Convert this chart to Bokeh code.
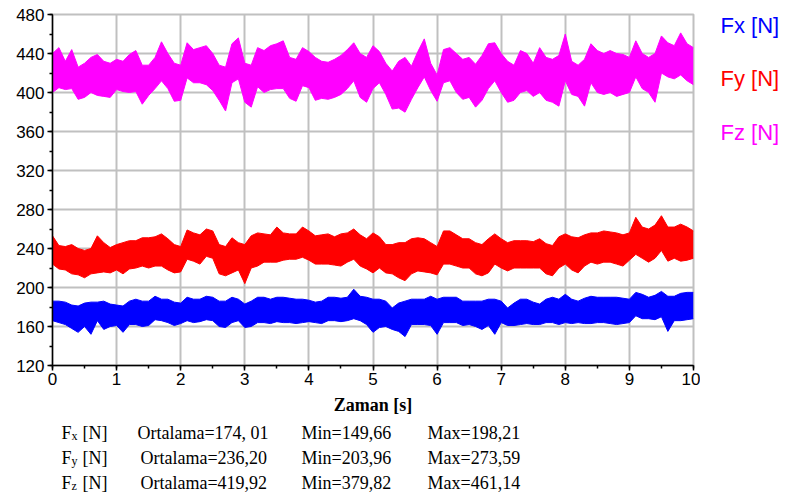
from bokeh.plotting import figure
from bokeh.models import SingleIntervalTicker, Range1d
from bokeh.layouts import row, column
from bokeh.core.properties import value
from bokeh.embed import file_html
from bokeh.resources import INLINE

# Sampling times of the envelope readings [s]
t = [round(0.1 * i, 1) for i in range(101)]

# Upper / lower envelope of each force signal [N]
fx_hi = [186, 186, 185, 182, 181, 184, 185, 185, 186, 183,
         182, 181, 186, 188, 186, 186, 191, 188, 188, 185,
         184, 190, 188, 188, 191, 190, 186, 186, 190, 188,
         183, 186, 190, 190, 188, 190, 190, 189, 188, 188,
         187, 185, 186, 190, 190, 189, 190, 198.21, 191, 190,
         188, 188, 186, 179, 184, 186, 188, 188, 188, 191,
         188, 190, 190, 190, 186, 186, 186, 186, 188, 188,
         186, 179, 184, 188, 188, 185, 183, 188, 190, 188,
         193, 188, 186, 189, 191, 190, 190, 190, 190, 189,
         188, 195, 193, 190, 192, 196, 191, 191, 194, 195, 195]
fx_lo = [166, 164, 162, 158, 154, 160, 152, 166, 157, 160,
         161, 154, 162, 162, 160, 161, 167, 166, 164, 161,
         163, 166, 164, 165, 167, 166, 160, 159, 164, 166,
         159, 160, 164, 164, 163, 165, 164, 164, 163, 164,
         165, 164, 163, 166, 166, 165, 166, 168, 166, 162,
         154, 159, 160, 157, 155, 149.66, 162, 162, 162, 161,
         152, 164, 164, 164, 161, 162, 160, 157, 161, 152,
         164, 161, 161, 162, 163, 162, 162, 164, 164, 162,
         164, 163, 164, 163, 163, 164, 164, 163, 162, 163,
         164, 171, 168, 168, 167, 170, 155, 166, 166, 167, 168]

fy_hi = [253, 243, 242, 244, 240, 238, 240, 253, 246, 241,
         244, 246, 248, 248, 251, 251, 252, 255, 250, 244,
         242, 259, 256, 254, 260, 258, 244, 242, 251, 246,
         244, 253, 256, 255, 254, 262, 256, 255, 255, 262,
         258, 253, 254, 255, 252, 255, 256, 260, 254, 250,
         256, 252, 244, 244, 246, 246, 250, 251, 250, 246,
         242, 258, 258, 254, 250, 250, 246, 244, 250, 255,
         250, 246, 248, 248, 248, 247, 250, 245, 243, 252,
         255, 252, 251, 254, 256, 256, 258, 257, 256, 254,
         256, 272, 262, 260, 264, 273.59, 262, 262, 265, 262, 258]
fy_lo = [224, 219, 218, 214, 213, 210, 214, 215, 216, 215,
         218, 214, 219, 220, 222, 220, 222, 222, 218, 215,
         216, 229, 227, 224, 232, 230, 214, 212, 215, 218,
         203.96, 220, 222, 226, 226, 226, 228, 229, 229, 231,
         228, 224, 224, 224, 223, 222, 226, 229, 222, 219,
         215, 220, 215, 214, 210, 207, 214, 217, 216, 215,
         213, 224, 224, 222, 220, 220, 214, 212, 215, 224,
         220, 217, 220, 220, 220, 220, 220, 214, 212, 220,
         224, 218, 215, 222, 226, 224, 226, 226, 224, 222,
         228, 234, 230, 226, 230, 238, 227, 230, 227, 228, 230]

fz_hi = [440, 446, 432, 444, 426, 430, 436, 439, 432, 430,
         434, 432, 439, 443, 428, 428, 436, 452, 440, 430,
         428, 451, 444, 446, 448, 440, 428, 426, 450, 456,
         430, 428, 446, 443, 448, 450, 453, 436, 434, 446,
         442, 436, 432, 431, 434, 438, 444, 451, 440, 436,
         448, 442, 430, 422, 432, 436, 427, 442, 455, 430,
         418, 444, 446, 440, 434, 436, 429, 438, 450, 451,
         440, 432, 428, 443, 440, 430, 446, 436, 434, 438,
         460, 432, 428, 434, 450, 443, 440, 443, 440, 439,
         436, 453, 440, 436, 440, 458, 451, 448, 461.14, 450, 446]
fz_lo = [400, 405, 403, 404, 393, 395, 400, 397, 396, 395,
         403, 401, 400, 401, 388, 397, 404, 412, 404, 391,
         392, 415, 410, 410, 408, 402, 392, 381, 410, 414,
         390, 385, 406, 400, 403, 404, 404, 394, 391, 407,
         405, 392, 394, 393, 395, 398, 404, 412, 395, 390,
         404, 410, 398, 383, 384, 379.82, 393, 405, 416, 402,
         391, 410, 412, 400, 393, 395, 385, 392, 404, 412,
         400, 390, 392, 400, 402, 396, 400, 392, 390, 386,
         412, 398, 396, 386, 410, 400, 398, 400, 396, 398,
         400, 416, 404, 400, 390, 420, 416, 414, 418, 412, 408]

series_names = ["Fx [N]", "Fy [N]", "Fz [N]"]
series_colors = ["#0000ff", "#ff0000", "#ff00ff"]
means = ["174, 01", "236,20", "419,92"]
subscripts = ["x", "y", "z"]

# ---- main chart -------------------------------------------------------
MAIN_W, MAIN_H = 700, 420
FRAME_L, FRAME_R = 52, 693
p = figure(width=MAIN_W, height=MAIN_H, output_backend="svg", toolbar_location=None,
           x_range=Range1d(0, 10), y_range=Range1d(120, 480),
           min_border_left=FRAME_L, min_border_right=MAIN_W - FRAME_R,
           min_border_top=14, min_border_bottom=55)
p.background_fill_color = "white"
p.border_fill_color = "white"
p.outline_line_color = "#c0c0c0"
p.outline_line_width = 2

p.xaxis.ticker = SingleIntervalTicker(interval=1, num_minor_ticks=2)
p.yaxis.ticker = SingleIntervalTicker(interval=40, num_minor_ticks=2)
for ax in (p.xaxis[0], p.yaxis[0]):
    ax.axis_line_color = "black"
    ax.axis_line_width = 1.5
    ax.major_tick_line_color = "black"
    ax.minor_tick_line_color = "black"
    ax.major_tick_line_width = 1.5
    ax.minor_tick_line_width = 1.5
    ax.major_tick_in = 0
    ax.major_tick_out = 5
    ax.minor_tick_in = 0
    ax.minor_tick_out = 3
    ax.major_label_text_font = "Liberation Sans"
    ax.major_label_text_color = "black"
p.xaxis.major_label_text_font_size = "17px"
p.yaxis.major_label_text_font_size = "17px"
p.xaxis.major_label_standoff = 2
p.yaxis.major_label_standoff = 3
p.xaxis.axis_label = "Zaman [s]"
p.xaxis.axis_label_text_font = "Liberation Serif"
p.xaxis.axis_label_text_font_style = "bold"
p.xaxis.axis_label_text_font_size = "18px"
p.xaxis.axis_label_standoff = 7
p.xaxis.axis_label_text_color = "black"

p.xgrid.grid_line_color = "#c0c0c0"
p.ygrid.grid_line_color = "#c0c0c0"
p.xgrid.grid_line_width = 2
p.ygrid.grid_line_width = 2

# force signal bands
for lo, hi, c in ((fz_lo, fz_hi, series_colors[2]),
                  (fy_lo, fy_hi, series_colors[1]),
                  (fx_lo, fx_hi, series_colors[0])):
    p.varea(x=t, y1=lo, y2=hi, fill_color=c)
    p.line(x=t, y=hi, line_color=c, line_width=1)
    p.line(x=t, y=lo, line_color=c, line_width=1)


def text_panel(w, h, x0=0, x1=None):
    # blank figure; data coordinates are canvas pixels (y grows downward)
    f = figure(width=w, height=h, output_backend="svg", toolbar_location=None,
               x_range=Range1d(x0, w if x1 is None else x1), y_range=Range1d(h, 0),
               x_axis_location=None, y_axis_location=None,
               min_border=0, min_border_left=0, min_border_right=0,
               min_border_top=0, min_border_bottom=0)
    f.grid.visible = False
    f.outline_line_color = None
    f.background_fill_color = "white"
    f.border_fill_color = "white"
    return f


# ---- legend (colored labels to the right of the chart) ---------------------
LEG_W = 86
leg = text_panel(LEG_W, MAIN_H + 80)
leg.text(x=[20, 20, 20], y=[25, 78, 132], text=series_names,
         text_color=series_colors, text_font=value("Liberation Sans"),
         text_font_size=value("22px"), text_baseline="middle", text_align="left")

# ---- statistics table under the chart -------------------------------------
# the column lines this panel's frame up with the chart frame
tab = text_panel(MAIN_W, 80, x0=FRAME_L, x1=FRAME_R)
mins = [min(fx_lo), min(fy_lo), min(fz_lo)]
maxs = [max(fx_hi), max(fy_hi), max(fz_hi)]


def fmt(v):
    return f"{v:.2f}".replace(".", ",")


row_y = [12, 37, 62]
serif = value("Liberation Serif")
common = dict(text_color="black", text_font=serif, text_baseline="middle",
              text_align="left")
tab.text(x=[61] * 3, y=row_y, text=["F"] * 3, text_font_size=value("18px"), **common)
tab.text(x=[71] * 3, y=[v + 3 for v in row_y], text=subscripts,
         text_font_size=value("12px"), **common)
tab.text(x=[82] * 3, y=row_y, text=["[N]"] * 3, text_font_size=value("18px"), **common)
tab.text(x=[137, 140, 140], y=row_y, text=["Ortalama=" + m for m in means],
         text_font_size=value("18px"), **common)
tab.text(x=[301] * 3, y=row_y, text=["Min=" + fmt(v) for v in mins],
         text_font_size=value("18px"), **common)
tab.text(x=[427] * 3, y=row_y, text=["Max=" + fmt(v) for v in maxs],
         text_font_size=value("18px"), **common)

layout = row(column(p, tab, spacing=0), leg, spacing=0)
open("out.html", "w").write(file_html(layout, INLINE))
